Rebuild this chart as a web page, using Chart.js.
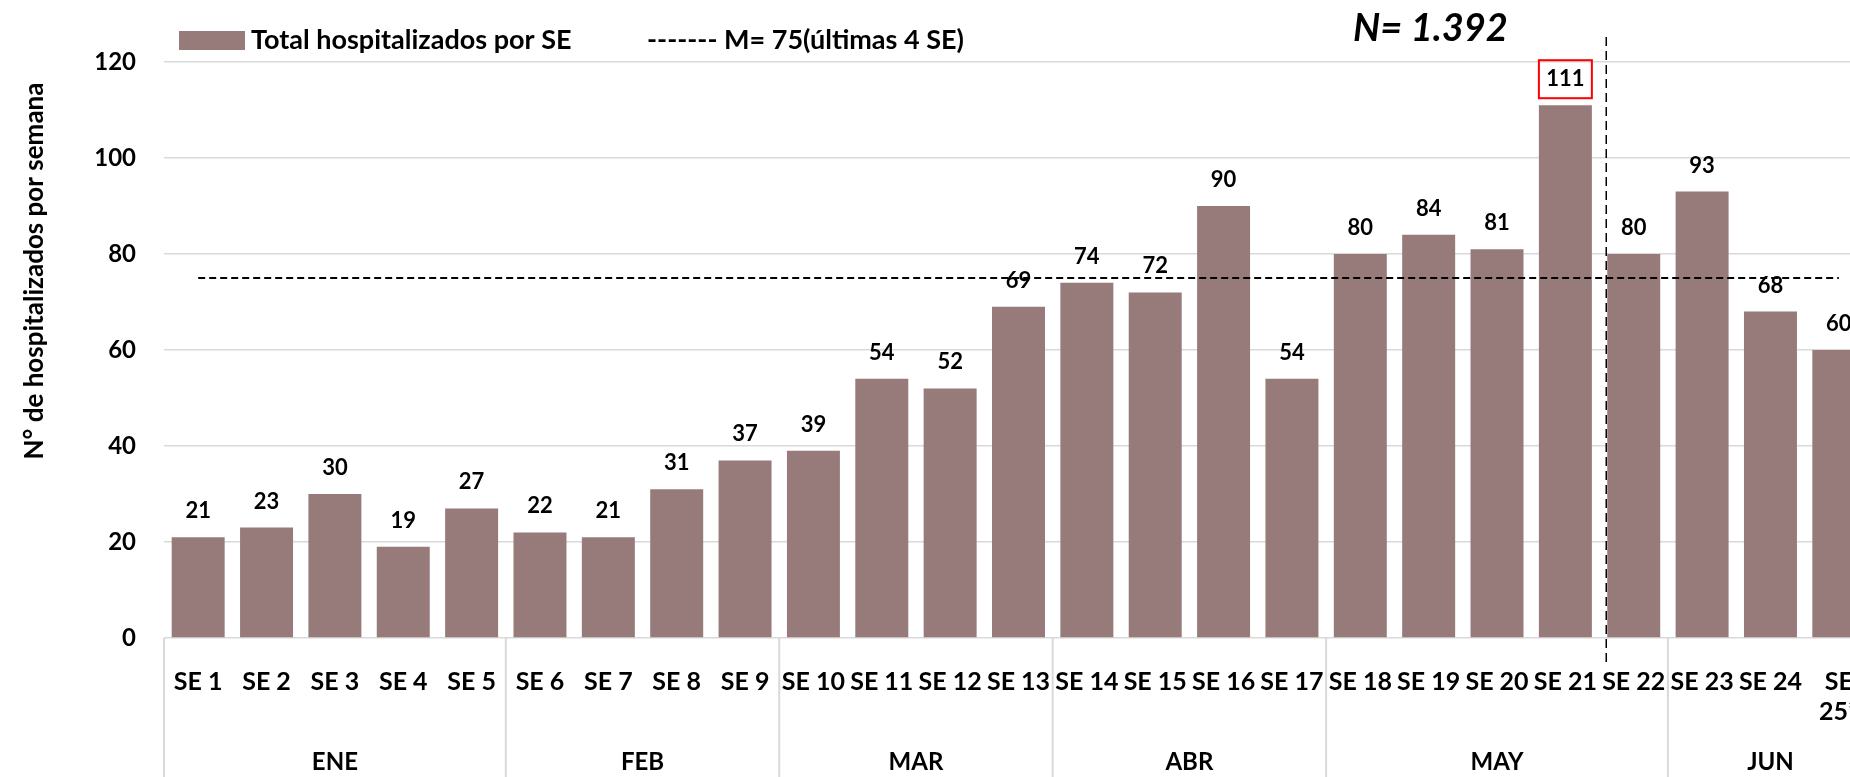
<!DOCTYPE html>
<html lang="es">
<head>
<meta charset="utf-8">
<title>Hospitalizados por SE</title>
<script src="https://cdn.jsdelivr.net/npm/chart.js@4/dist/chart.umd.min.js"></script>
<style>
  html, body { margin: 0; padding: 0; background: #fff; overflow: hidden; }
  .chart-box { position: relative; width: 1890px; height: 777px; }
</style>
</head>
<body>
<div class="chart-box">
  <canvas id="chartHospitalizados"></canvas>
</div>
<script>
const semanas = [
  "SE 1", "SE 2", "SE 3", "SE 4", "SE 5", "SE 6", "SE 7", "SE 8", "SE 9",
  "SE 10", "SE 11", "SE 12", "SE 13", "SE 14", "SE 15", "SE 16", "SE 17",
  "SE 18", "SE 19", "SE 20", "SE 21", "SE 22", "SE 23", "SE 24", ["SE", "25*"]
];
const hospitalizados = [
  21, 23, 30, 19, 27, 22, 21, 31, 37, 39, 54, 52, 69,
  74, 72, 90, 54, 80, 84, 81, 111, 80, 93, 68, 60
];
const meses = ["ENE", "FEB", "MAR", "ABR", "MAY", "JUN"];
const semanasPorMes = [5, 4, 4, 4, 5, 3];
const mediaUltimas4 = 75;
const semanaDestacada = 20;   // SE 21, valor recuadrado
const semanaCorte = 21;       // línea vertical antes de SE 22
const yTicks = [0, 20, 40, 60, 80, 100, 120];

const FONT = "Lato, 'Open Sans', sans-serif";
const mediaLinea = semanas.map(() => mediaUltimas4);

const extrasPlugin = {
  id: 'extras',
  afterDatasetsDraw(chart) {
    const { ctx, chartArea, scales } = chart;
    const x = scales.x;
    const bars = chart.getDatasetMeta(0).data;
    const H = chart.height;

    ctx.save();

    // valores sobre las barras
    ctx.font = `bold 22px ${FONT}`;
    ctx.fillStyle = '#000';
    ctx.textAlign = 'center';
    ctx.textBaseline = 'middle';
    bars.forEach((bar, i) => {
      ctx.fillText(hospitalizados[i], bar.x, bar.y - 26);
    });

    // recuadro rojo
    const b = bars[semanaDestacada];
    ctx.strokeStyle = '#ff0000';
    ctx.lineWidth = 2;
    ctx.strokeRect(b.x - b.width / 2, b.y - 45, b.width, 38);

    // separadores de meses y etiquetas
    ctx.strokeStyle = '#d9d9d9';
    ctx.lineWidth = 2;
    let start = 0;
    const bordes = [x.getPixelForValue(-0.5)];
    semanasPorMes.forEach(n => {
      bordes.push(x.getPixelForValue(start + n - 0.5));
      start += n;
    });
    bordes.forEach(px => {
      ctx.beginPath();
      ctx.moveTo(px, chartArea.bottom);
      ctx.lineTo(px, H);
      ctx.stroke();
    });
    ctx.font = `bold 24px ${FONT}`;
    ctx.fillStyle = '#000';
    meses.forEach((m, i) => {
      ctx.fillText(m, (bordes[i] + bordes[i + 1]) / 2, 762);
    });

    // línea vertical punteada
    const corte = bars[semanaCorte].x - bars[semanaCorte].width / 2 - 1;
    ctx.strokeStyle = '#000';
    ctx.lineWidth = 1.5;
    ctx.setLineDash([9, 5]);
    ctx.beginPath();
    ctx.moveTo(corte, 37);
    ctx.lineTo(corte, 665);
    ctx.stroke();
    ctx.setLineDash([]);

    // leyenda
    ctx.fillStyle = '#977b7a';
    ctx.fillRect(179, 31, 66, 19);
    ctx.fillStyle = '#000';
    ctx.textAlign = 'left';
    ctx.font = `bold 27px ${FONT}`;
    ctx.fillText('Total hospitalizados por SE', 251, 40);
    ctx.fillText('------- M= 75(últimas 4 SE)', 647, 40);

    // N total
    ctx.font = `italic bold 38px ${FONT}`;
    ctx.fillText('N= 1.392', 1353, 29);

    // titulo eje Y
    ctx.translate(35, 271);
    ctx.rotate(-Math.PI / 2);
    ctx.textAlign = 'center';
    ctx.font = `bold 26px ${FONT}`;
    ctx.fillText('N° de hospitalizados por semana', 0, 0);

    ctx.restore();
  }
};

const ctx = document.getElementById('chartHospitalizados').getContext('2d');

new Chart(ctx, {
  data: {
    labels: semanas,
    datasets: [
      {
        type: 'bar',
        label: 'Total hospitalizados por SE',
        data: hospitalizados,
        backgroundColor: '#977b7a',
        categoryPercentage: 1,
        barPercentage: 0.775,
        order: 2
      },
      {
        type: 'line',
        label: 'M= 75(últimas 4 SE)',
        data: mediaLinea,
        borderColor: '#000',
        borderWidth: 2,
        borderDash: [7, 4],
        pointRadius: 0,
        fill: false,
        order: 1
      }
    ]
  },
  options: {
    responsive: true,
    maintainAspectRatio: false,
    animation: false,
    layout: { padding: { top: 62, right: 17, left: 0, bottom: 0 } },
    plugins: {
      legend: { display: false },
      tooltip: { enabled: false }
    },
    scales: {
      x: {
        grid: { display: false },
        border: { display: false },
        ticks: {
          color: '#000',
          font: { family: FONT, size: 25, weight: 'bold' },
          padding: 21,
          maxRotation: 0,
          autoSkip: false
        },
        afterFit(scale) { scale.height = 139; }
      },
      y: {
        min: 0,
        max: 120,
        afterBuildTicks(scale) { scale.ticks = yTicks.map(v => ({ value: v })); },
        grid: { color: '#d9d9d9', lineWidth: 1.5, drawTicks: false },
        border: { display: false },
        ticks: {
          color: '#000',
          font: { family: FONT, size: 24, weight: 'bold' },
          padding: 28
        },
        afterFit(scale) { scale.width = 164; }
      }
    }
  },
  plugins: [extrasPlugin]
});
</script>
</body>
</html>
